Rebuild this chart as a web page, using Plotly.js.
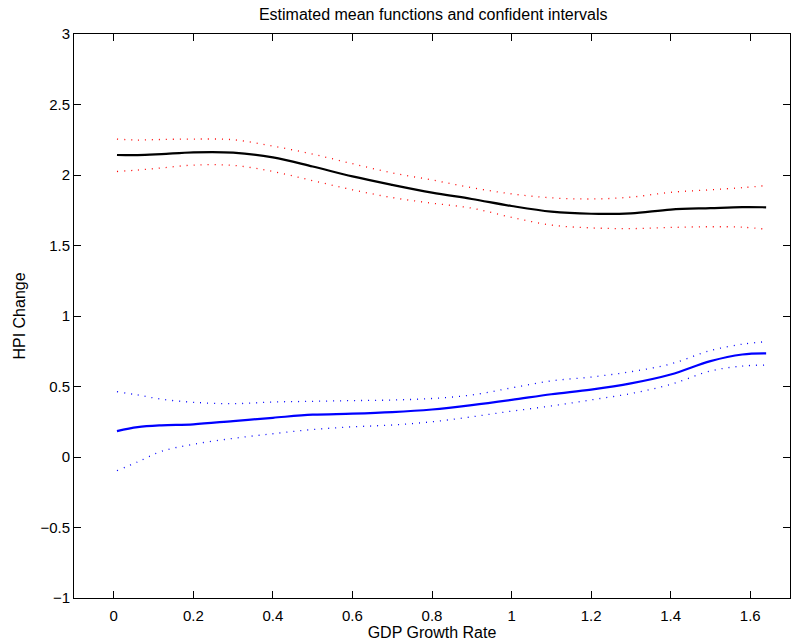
<!DOCTYPE html>
<html>
<head>
<meta charset="utf-8">
<script src="https://cdn.plot.ly/plotly-3.0.1.min.js"></script>
<style>html,body{margin:0;padding:0;background:#fff;}#chart{width:792px;height:644px;}</style>
</head>
<body>
<div id="chart"></div>
<script>
const gdp = [0.008, 0.06, 0.12, 0.2, 0.3, 0.4, 0.5, 0.6, 0.7, 0.8, 0.9, 1.0, 1.1, 1.2, 1.3, 1.4, 1.5, 1.58, 1.64];

const meanBlack = [2.142, 2.141, 2.148, 2.160, 2.158, 2.125, 2.06, 1.99, 1.93, 1.875, 1.83, 1.78, 1.74, 1.725, 1.728, 1.755, 1.765, 1.772, 1.771];
const upperRed  = [2.255, 2.248, 2.252, 2.255, 2.25, 2.205, 2.148, 2.08, 2.015, 1.965, 1.91, 1.866, 1.838, 1.83, 1.843, 1.877, 1.895, 1.91, 1.925];
const lowerRed  = [2.025, 2.035, 2.05, 2.07, 2.068, 2.025, 1.96, 1.895, 1.84, 1.80, 1.765, 1.70, 1.645, 1.625, 1.62, 1.628, 1.633, 1.63, 1.615];

const meanBlue  = [0.184, 0.212, 0.225, 0.232, 0.255, 0.278, 0.30, 0.307, 0.318, 0.337, 0.368, 0.405, 0.445, 0.478, 0.522, 0.585, 0.68, 0.727, 0.735];
const upperBlue = [0.463, 0.44, 0.41, 0.388, 0.378, 0.39, 0.395, 0.40, 0.404, 0.415, 0.44, 0.49, 0.54, 0.567, 0.605, 0.66, 0.755, 0.80, 0.818];
const lowerBlue = [-0.097, -0.035, 0.04, 0.09, 0.132, 0.165, 0.195, 0.214, 0.227, 0.25, 0.285, 0.325, 0.362, 0.405, 0.45, 0.515, 0.61, 0.645, 0.652];

const titleText = 'Estimated mean functions and confident intervals';
const xTitle = 'GDP Growth Rate';
const yTitle = 'HPI Change';

const dotted = (y, color) => ({x: gdp, y: y, mode: 'lines', line: {color: color, width: 1.3, dash: '1px,6px', shape: 'spline'}, hoverinfo: 'skip'});
const solid = (y, color) => ({x: gdp, y: y, mode: 'lines', line: {color: color, width: 2.2, shape: 'spline'}});

const data = [
  dotted(upperRed, '#ff0000'),
  dotted(lowerRed, '#ff0000'),
  solid(meanBlack, '#000000'),
  dotted(upperBlue, '#0000ff'),
  dotted(lowerBlue, '#0000ff'),
  solid(meanBlue, '#0000ff')
];

const fam = 'Liberation Sans, Arial, Helvetica, sans-serif';
const font = {family: fam, size: 15, color: '#000'};
const titleFont = {family: fam, size: 16, color: '#000'};
const axisCommon = {
  showline: true, linecolor: '#000', linewidth: 1, mirror: 'ticks',
  ticks: 'inside', ticklen: 7, tickcolor: '#000', tickwidth: 1,
  showgrid: false, zeroline: false, tickfont: font
};

const layout = {
  width: 792, height: 644,
  margin: {l: 74, r: 2, t: 34, b: 46},
  paper_bgcolor: '#fff', plot_bgcolor: '#fff',
  showlegend: false,
  font: font,
  title: {text: titleText, font: {family: fam, size: 16, color: '#000'}, x: 0.547, xanchor: 'center', y: 0.977, yanchor: 'middle'},
  xaxis: Object.assign({}, axisCommon, {range: [-0.1, 1.7], tick0: 0, dtick: 0.2, ticklabelstandoff: 4,
    title: {text: xTitle, font: titleFont, standoff: 3}}),
  yaxis: Object.assign({}, axisCommon, {range: [-1, 3], tick0: -1, dtick: 0.5,
    title: {text: yTitle, font: titleFont, standoff: 10}})
};

Plotly.newPlot('chart', data, layout, {staticPlot: true});
</script>
</body>
</html>
